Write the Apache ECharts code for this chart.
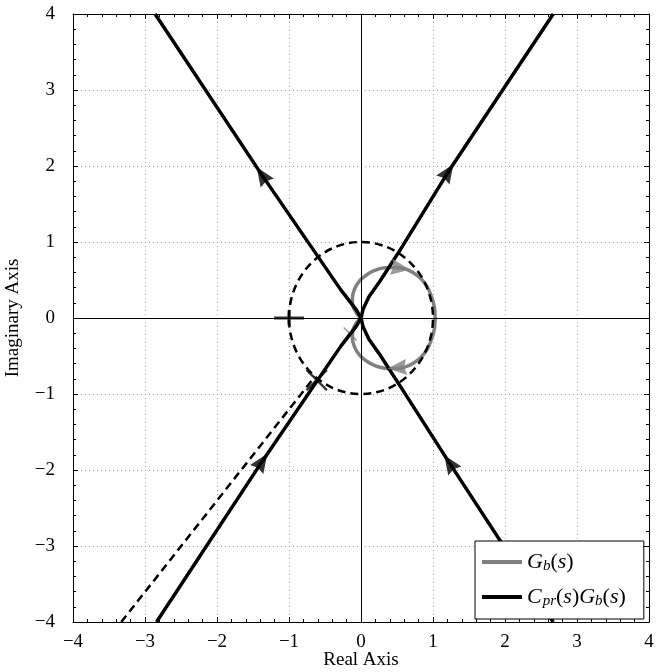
<!DOCTYPE html>
<html>
<head>
<meta charset="utf-8">
<script src="https://cdn.jsdelivr.net/npm/echarts@6/dist/echarts.min.js"></script>
<style>
html, body { margin: 0; padding: 0; background: #fff; }
#main { width: 664px; height: 672px; }
</style>
</head>
<body>
<div id="main"></div>
<script>
// axis range (same on both axes)
var axisMin = -4, axisMax = 4, axisStep = 1;

// Gb(s): grey loop, upper and lower halves
var gbUpper = [[0, 0], [-0.06, 0.06], [-0.11, 0.15], [-0.12, 0.26], [-0.09, 0.38], [-0.02, 0.49],
  [0.08, 0.57], [0.2, 0.63], [0.33, 0.66], [0.47, 0.665], [0.6, 0.65], [0.72, 0.6], [0.83, 0.52],
  [0.92, 0.41], [0.98, 0.28], [1.02, 0.14], [1.03, 0]];
var gbLower = [[1.03, 0], [1.02, -0.14], [0.98, -0.28], [0.92, -0.41], [0.83, -0.52], [0.72, -0.6],
  [0.6, -0.65], [0.47, -0.665], [0.33, -0.66], [0.2, -0.63], [0.08, -0.57], [-0.02, -0.49],
  [-0.09, -0.38], [-0.12, -0.26], [-0.11, -0.15], [-0.06, -0.06], [0, 0]];

// Cpr(s)Gb(s): four black branches meeting at the origin
var cprUpperRight = [[0, 0], [0.03, 0.12], [0.11, 0.28], [0.26, 0.48], [0.54, 0.89], [1.21, 1.92], [2.67, 4]];
var cprLowerRight = [[0, 0], [0.03, -0.12], [0.11, -0.28], [0.26, -0.48], [0.54, -0.89], [1.23, -1.91], [2.67, -4]];
var cprUpperLeft = [[0, 0], [-0.06, 0.1], [-0.28, 0.37], [-1.375, 1.88], [-2.86, 4]];
var cprLowerLeft = [[0, 0], [-0.06, -0.1], [-0.28, -0.37], [-1.375, -1.89], [-2.84, -4]];

// dashed straight line in the lower-left quadrant
var dashedLine = [[-3.33, -4], [-0.64, -0.77]];
var unitRadius = 1;

// arrow heads: positions and direction (degrees, counter-clockwise from +x on screen)
var blackArrows = [[1.21, 1.92], [1.23, -1.91], [-1.375, 1.88], [-1.375, -1.89]];
var blackArrowDir = [56, 124, 124, 56];
var greyArrows = [[0.55, 0.655], [0.5, -0.655]];
var greyArrowDir = [-9, 185];

// markers
var criticalPoint = [[-1, 0]];
var blackCross = [[-0.615, -0.816]];
var greyCross = [[-0.15, -0.21]];

var serif = 'Liberation Serif';
var arrowPath = 'path://M0,0 L7,17 L0,15 L-7,17 Z';
var crossPath = 'path://M-10,-8.5 L-8.5,-10 L10,8.5 L8.5,10 Z M8.5,-10 L10,-8.5 L-8.5,10 L-10,8.5 Z';
var plusPath = 'path://M-15,-1.5 L15,-1.5 L15,1.5 L-15,1.5 Z M-1.5,-7.5 L1.5,-7.5 L1.5,7.5 L-1.5,7.5 Z';
var legendIcon = 'path://M0,0 L40,0 L40,4 L0,4 Z';

function arrowData(pts, dirs) {
  return pts.map(function (p, i) {
    return { value: p, symbolRotate: dirs[i] - 90 };
  });
}

function valueAxis(pos, main) {
  return {
    type: 'value',
    position: pos,
    min: axisMin,
    max: axisMax,
    interval: axisStep,
    axisLine: { show: true, onZero: false, lineStyle: { color: '#000', width: 1 } },
    axisTick: { show: true, inside: true, length: 5, lineStyle: { color: '#000' } },
    minorTick: { show: true, splitNumber: 5, length: 3, lineStyle: { color: '#000' } },
    splitLine: { show: main, lineStyle: { color: '#999', type: [1, 3], width: 1 } },
    axisLabel: {
      show: main,
      fontFamily: serif,
      fontSize: 19,
      color: '#000',
      formatter: function (v) { return String(v).replace('-', '\u2212'); }
    }
  };
}

var xMain = valueAxis('bottom', true);
xMain.name = 'Real Axis';
xMain.nameLocation = 'middle';
xMain.nameGap = 29;
xMain.nameMoveOverlap = false;
xMain.nameTextStyle = { fontFamily: serif, fontSize: 19, color: '#000' };
xMain.axisLabel.margin = 11;

var yMain = valueAxis('left', true);
yMain.name = 'Imaginary Axis';
yMain.nameLocation = 'middle';
yMain.nameGap = 50;
yMain.nameMoveOverlap = false;
yMain.nameTextStyle = { fontFamily: serif, fontSize: 19, color: '#000' };
yMain.axisLabel.margin = 18;

var legendNames = {
  'Gb': '{i|G}{s|b}{n|(}{i|s}{n|)}',
  'CprGb': '{i|C}{p|pr}{n|(}{i|s}{n|)}{i|G}{s|b}{n|(}{i|s}{n|)}'
};

function blackLine(data) {
  return {
    name: 'CprGb', type: 'line', data: data, symbol: 'none', z: 5,
    lineStyle: { color: '#000', width: 3.5 }, itemStyle: { color: '#000' }
  };
}

function greyLine(data) {
  return {
    name: 'Gb', type: 'line', data: data, symbol: 'none', z: 3, smooth: 0.3,
    lineStyle: { color: '#808080', width: 3.5 }, itemStyle: { color: '#808080' }
  };
}

var subStyle = { fontFamily: serif, fontStyle: 'italic', fontSize: 15, lineHeight: 12, verticalAlign: 'bottom', color: '#000' };
var preSubStyle = Object.assign({}, subStyle, { padding: [0, 0, 0, 1] });

var option = {
  animation: false,
  backgroundColor: '#fff',
  grid: { left: 73, right: 15, top: 14, bottom: 50, containLabel: false, outerBoundsMode: 'none' },
  xAxis: [xMain, valueAxis('top', false)],
  yAxis: [yMain, valueAxis('right', false)],
  legend: {
    z: 20,
    data: [{ name: 'Gb', icon: legendIcon }, { name: 'CprGb', icon: legendIcon }],
    orient: 'vertical',
    left: 475,
    top: 541,
    padding: [10, 18, 10, 7],
    itemGap: 12,
    itemWidth: 40,
    itemHeight: 4,
    backgroundColor: '#fff',
    borderColor: '#000',
    borderWidth: 1,
    borderRadius: 0,
    formatter: function (name) { return legendNames[name]; },
    textStyle: {
      color: '#000',
      rich: {
        i: { fontFamily: serif, fontStyle: 'italic', fontSize: 22, lineHeight: 24, color: '#000' },
        n: { fontFamily: serif, fontSize: 22, lineHeight: 24, color: '#000' },
        s: subStyle,
        p: preSubStyle
      }
    }
  },
  series: [
    {
      name: 'dashed', type: 'line', data: dashedLine, symbol: 'none', z: 4,
      lineStyle: { color: '#000', width: 2.5, type: [8, 5] },
      markLine: {
        silent: true, symbol: 'none', label: { show: false },
        lineStyle: { color: '#000', width: 1, type: 'solid' },
        data: [{ xAxis: 0 }, { yAxis: 0 }]
      }
    },
    greyLine(gbUpper),
    greyLine(gbLower),
    {
      name: 'circle', type: 'custom', z: 4,
      data: [[0, 0]],
      renderItem: function (params, api) {
        var c = api.coord([api.value(0), api.value(1)]);
        var s = api.size([unitRadius, unitRadius]);
        return {
          type: 'ellipse',
          shape: { cx: c[0], cy: c[1], rx: s[0], ry: s[1] },
          style: { fill: 'none', stroke: '#000', lineWidth: 2.5, lineDash: [8, 5] }
        };
      }
    },
    blackLine(cprUpperRight),
    blackLine(cprLowerRight),
    blackLine(cprUpperLeft),
    blackLine(cprLowerLeft),
    {
      name: 'greyArrows', type: 'scatter', z: 6, symbol: arrowPath, symbolSize: [16, 19],
      itemStyle: { color: '#808080' }, data: arrowData(greyArrows, greyArrowDir)
    },
    {
      name: 'blackArrows', type: 'scatter', z: 7, symbol: arrowPath, symbolSize: [16, 19],
      itemStyle: { color: '#000' }, data: arrowData(blackArrows, blackArrowDir)
    },
    {
      name: 'critical', type: 'scatter', z: 7, symbol: plusPath, symbolSize: [30, 15],
      itemStyle: { color: '#000' }, data: criticalPoint
    },
    {
      name: 'pm', type: 'scatter', z: 7, symbol: crossPath, symbolSize: 22,
      itemStyle: { color: '#000' }, data: blackCross
    },
    {
      name: 'pmGrey', type: 'scatter', z: 4, symbol: crossPath, symbolSize: 14,
      itemStyle: { color: '#808080' }, data: greyCross
    }
  ]
};

var chart = echarts.init(document.getElementById('main'));
chart.setOption(option);
</script>
</body>
</html>
